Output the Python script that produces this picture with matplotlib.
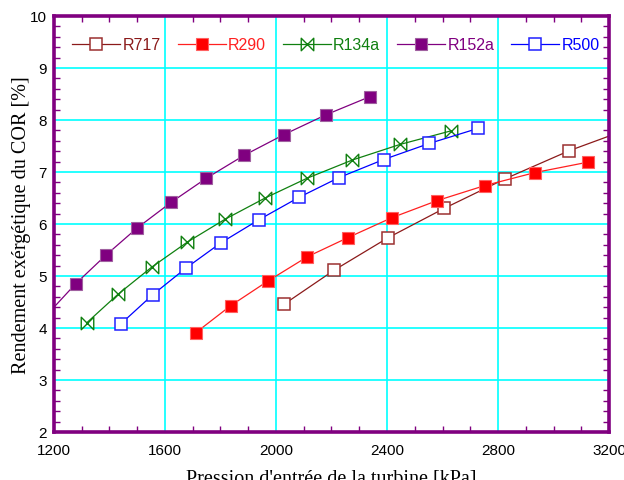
import numpy as np
import matplotlib
matplotlib.use("Agg")
import matplotlib.pyplot as plt
from matplotlib.path import Path
from matplotlib.ticker import MultipleLocator

# pression d'entrée de la turbine [kPa] et rendement exergétique [%]
p_r717 = [2030, 2209, 2402, 2606, 2826, 3057, 3297]
e_r717 = [4.46, 5.11, 5.73, 6.30, 6.87, 7.41, 7.88]

p_r290 = [1711, 1837, 1970, 2113, 2260, 2417, 2581, 2753, 2934, 3125]
e_r290 = [3.91, 4.43, 4.90, 5.37, 5.74, 6.12, 6.45, 6.74, 6.99, 7.19]

p_r134a = [1318, 1431, 1552, 1680, 1816, 1961, 2112, 2275, 2447, 2630]
e_r134a = [4.10, 4.65, 5.17, 5.65, 6.09, 6.50, 6.88, 7.23, 7.53, 7.79]

p_r152a = [1174, 1278, 1387, 1499, 1623, 1749, 1885, 2029, 2180, 2339]
e_r152a = [4.25, 4.85, 5.40, 5.92, 6.42, 6.88, 7.32, 7.72, 8.10, 8.45]

p_r500 = [1441, 1556, 1675, 1802, 1938, 2082, 2226, 2388, 2553, 2729]
e_r500 = [4.08, 4.64, 5.15, 5.64, 6.08, 6.51, 6.89, 7.24, 7.55, 7.84]

bowtie = Path([(-1, 1), (1, -1), (1, 1), (-1, -1), (-1, 1)],
              [Path.MOVETO, Path.LINETO, Path.LINETO, Path.LINETO, Path.CLOSEPOLY])

plt.rcParams["font.family"] = ["Liberation Sans", "DejaVu Sans"]

fig = plt.figure(figsize=(6.24, 4.81), dpi=100)
ax = fig.add_axes([0.0865, 0.0998, 0.8895, 0.8649])

ax.plot(p_r717, e_r717, color="#8B1A1A", lw=0.9, marker="s", ms=8,
        mfc="white", mec="#9B3030", mew=1.1, label="R717")
ax.plot(p_r290, e_r290, color="#FF2020", lw=0.9, marker="s", ms=8.5,
        mfc="#FF0000", mec="#FF6060", mew=0.8, label="R290")
ax.plot(p_r134a, e_r134a, color="#108010", lw=0.9, marker=bowtie, ms=9,
        mfc="none", mec="#108010", mew=1.0, label="R134a")
ax.plot(p_r152a, e_r152a, color="#800080", lw=0.9, marker="s", ms=8.5,
        mfc="#800080", mec="#A060A0", mew=0.8, label="R152a")
ax.plot(p_r500, e_r500, color="#0000FF", lw=0.9, marker="s", ms=8,
        mfc="white", mec="#2020FF", mew=1.1, label="R500")

ax.set_xlim(1200, 3200)
ax.set_ylim(2, 10)
ax.xaxis.set_major_locator(MultipleLocator(400))
ax.xaxis.set_minor_locator(MultipleLocator(100))
ax.yaxis.set_major_locator(MultipleLocator(1))
ax.yaxis.set_minor_locator(MultipleLocator(0.2))
ax.grid(True, which="major", color="#00FFFF", lw=1.2)
ax.set_axisbelow(True)

for s in ax.spines.values():
    s.set_color("#800080")
    s.set_linewidth(2.6)
ax.tick_params(which="both", direction="in", top=True, right=True,
               color="#800080", labelsize=11, labelcolor="black")
ax.tick_params(which="major", length=0)
ax.tick_params(axis="x", which="major", pad=8)
ax.tick_params(axis="y", which="major", pad=5)
ax.tick_params(which="minor", length=4, width=1.0)

ax.set_ylabel("Rendement exérgétique du COR [%]", family="Liberation Serif",
              fontsize=14.5, labelpad=-1)
ax.set_xlabel("Pression d'entrée de la turbine [kPa]", family="Liberation Serif",
              fontsize=14.5, labelpad=8)

leg = ax.legend(loc="upper center", bbox_to_anchor=(0.508, 0.972), ncol=5,
                frameon=False, fontsize=11.5, handlelength=3.0, handletextpad=0.15,
                columnspacing=1.05, labelcolor="linecolor", borderaxespad=0.2)

fig.savefig("out.png", dpi=100)
